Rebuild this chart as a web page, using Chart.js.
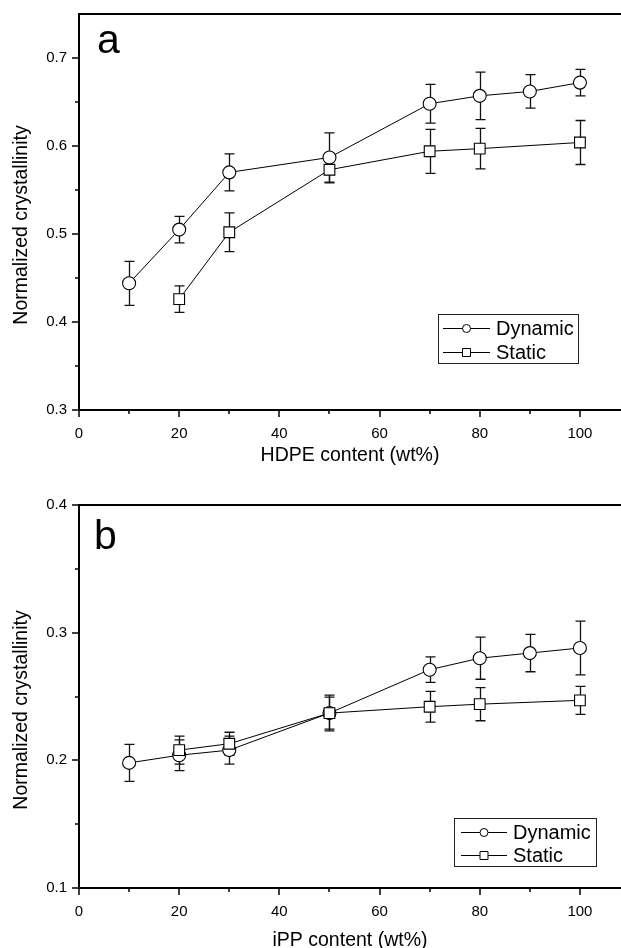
<!DOCTYPE html>
<html><head><meta charset="utf-8">
<script src="https://cdn.jsdelivr.net/npm/chart.js@4/dist/chart.umd.min.js"></script>
<style>
html,body{margin:0;padding:0;background:#fff;overflow:hidden;width:621px;height:948px;}
.panel{position:absolute;left:0;}
canvas{display:block;}
</style></head><body>
<div class="panel" style="top:0px"><canvas id="ca" width="621" height="470"></canvas></div>
<div class="panel" style="top:470px"><canvas id="cb" width="621" height="500"></canvas></div>
<script>
// ---------- data ----------
const dynamicX = [10, 20, 30, 50, 70, 80, 90, 100];
const staticX  = [20, 30, 50, 70, 80, 100];
// Panel a: HDPE content
const dynamicA    = [0.444, 0.505, 0.570, 0.587, 0.648, 0.657, 0.662, 0.672];
const dynamicAErr = [0.025, 0.015, 0.021, 0.028, 0.022, 0.027, 0.019, 0.015];
const staticA     = [0.426, 0.502, 0.573, 0.594, 0.597, 0.604];
const staticAErr  = [0.015, 0.022, 0.015, 0.025, 0.023, 0.025];
// Panel b: iPP content
const dynamicB    = [0.198, 0.204, 0.208, 0.237, 0.271, 0.280, 0.284, 0.288];
const dynamicBErr = [0.0145, 0.012, 0.011, 0.014, 0.010, 0.0165, 0.0146, 0.021];
const staticB     = [0.208, 0.213, 0.237, 0.242, 0.244, 0.247];
const staticBErr  = [0.011, 0.009, 0.0125, 0.012, 0.013, 0.011];
// ticks
const xMajor  = [0, 20, 40, 60, 80, 100];
const xMinor  = [10, 30, 50, 70, 90];
const yMajorA = [0.3, 0.4, 0.5, 0.6, 0.7];
const yMinorA = [0.35, 0.45, 0.55, 0.65];
const yMajorB = [0.1, 0.2, 0.3, 0.4];
const yMinorB = [0.15, 0.25, 0.35];
const seriesNames = ['Dynamic', 'Static'];
const panelLetters = ['a', 'b'];
const xTitles = ['HDPE content (wt%)', 'iPP content (wt%)'];
const yTitle = 'Normalized crystallinity';

// ---------- helpers ----------
const FONT = '"Liberation Sans", Arial, Helvetica, sans-serif';
Chart.defaults.font.family = FONT;
Chart.defaults.color = '#000';

function pts(xs, ys) { return xs.map((x, i) => ({x: x, y: ys[i]})); }

const errorBars = {
  id: 'errorBars',
  beforeDatasetsDraw(chart) {
    const ctx = chart.ctx, xs = chart.scales.x, ys = chart.scales.y;
    ctx.save();
    ctx.strokeStyle = '#111';
    ctx.lineWidth = 1.3;
    chart.data.datasets.forEach((ds, i) => {
      if (!ds.errors) return;
      ds.data.forEach((p, j) => {
        const e = ds.errors[j];
        const px = Math.round(xs.getPixelForValue(p.x)) + 0.5;
        const y1 = ys.getPixelForValue(p.y + e), y2 = ys.getPixelForValue(p.y - e);
        ctx.beginPath();
        ctx.moveTo(px, y1); ctx.lineTo(px, y2);
        ctx.moveTo(px - 5, y1); ctx.lineTo(px + 5, y1);
        ctx.moveTo(px - 5, y2); ctx.lineTo(px + 5, y2);
        ctx.stroke();
      });
    });
    ctx.restore();
  }
};

const decor = {
  id: 'decor',
  afterDraw(chart) {
    const o = chart.options.plugins.decor;
    const ctx = chart.ctx, xs = chart.scales.x, ys = chart.scales.y, ca = chart.chartArea;
    ctx.save();
    ctx.strokeStyle = '#000';
    // top frame line
    ctx.lineWidth = 2;
    ctx.beginPath(); ctx.moveTo(ca.left - 1, ca.top); ctx.lineTo(ca.right, ca.top); ctx.stroke();
    // tick marks
    ctx.lineWidth = 1.5;
    const tick = (arr, len, horiz) => {
      arr.forEach(v => {
        ctx.beginPath();
        if (horiz) { const px = Math.round(xs.getPixelForValue(v)); ctx.moveTo(px, ca.bottom); ctx.lineTo(px, ca.bottom + len); }
        else { const py = Math.round(ys.getPixelForValue(v)); ctx.moveTo(ca.left, py); ctx.lineTo(ca.left - len, py); }
        ctx.stroke();
      });
    };
    tick(o.xMajor, 7, true); tick(o.xMinor, 4, true);
    tick(o.yMajor, 7, false); tick(o.yMinor, 4, false);
    // y title
    ctx.fillStyle = '#000';
    ctx.font = '19.5px ' + FONT;
    ctx.textAlign = 'center'; ctx.textBaseline = 'middle';
    ctx.save(); ctx.translate(o.yTitleX, o.yTitleY); ctx.rotate(-Math.PI / 2);
    ctx.fillText(yTitle, 0, 0); ctx.restore();
    // panel letter
    ctx.font = '41px ' + FONT;
    ctx.textAlign = 'left'; ctx.textBaseline = 'alphabetic';
    ctx.fillText(o.letter, o.letterX, o.letterY);
    // legend
    const L = o.legend;
    ctx.lineWidth = 1;
    ctx.strokeStyle = '#222';
    ctx.strokeRect(L.x + 0.5, L.y + 0.5, L.w, L.h);
    ctx.strokeStyle = '#000';
    ctx.font = '20px ' + FONT;
    ctx.textBaseline = 'middle';
    chart.data.datasets.forEach((ds, i) => {
      const ry = L.rows[i];
      ctx.beginPath(); ctx.moveTo(L.lineX0, ry + 0.5); ctx.lineTo(L.lineX1, ry + 0.5); ctx.stroke();
      const cx = (L.lineX0 + L.lineX1) / 2;
      ctx.fillStyle = '#fff';
      ctx.beginPath();
      if (ds.pointStyle === 'circle') ctx.arc(cx, ry + 0.5, 4, 0, Math.PI * 2);
      else ctx.rect(cx - 4, ry - 3.5, 8, 8);
      ctx.fill(); ctx.stroke();
      ctx.fillStyle = '#000';
      ctx.fillText(ds.label, L.textX, ry + 1);
    });
    ctx.restore();
  }
};

function makeChart(id, p) {
  return new Chart(document.getElementById(id), {
    type: 'line',
    data: {
      datasets: [
        { label: seriesNames[0], data: pts(dynamicX, p.dyn), errors: p.dynErr, order: 1,
          pointStyle: 'circle', pointRadius: 6.5, pointHoverRadius: 6.5,
          borderColor: '#000', backgroundColor: '#fff', pointBackgroundColor: '#fff', pointBorderColor: '#000',
          borderWidth: 1, pointBorderWidth: 1.1, tension: 0, fill: false },
        { label: seriesNames[1], data: pts(staticX, p.sta), errors: p.staErr, order: 0,
          pointStyle: 'rect', pointRadius: 7.6, pointHoverRadius: 7.6,
          borderColor: '#000', backgroundColor: '#fff', pointBackgroundColor: '#fff', pointBorderColor: '#000',
          borderWidth: 1, pointBorderWidth: 1.1, tension: 0, fill: false }
      ]
    },
    options: {
      responsive: false, animation: false, devicePixelRatio: 1,
      layout: { autoPadding: false, padding: { left: 0, right: 0, top: p.padTop, bottom: 0 } },
      plugins: {
        legend: { display: false }, tooltip: { enabled: false },
        decor: p.decor
      },
      scales: {
        x: {
          type: 'linear', position: 'bottom', min: 0, max: 108.2,
          afterBuildTicks: s => { s.ticks = xMajor.map(v => ({value: v})); },
          afterFit: s => { s.height = p.xAxisH; s.paddingLeft = 0; s.paddingRight = 0; },
          ticks: { padding: 15, font: { size: 15 }, color: '#000', callback: v => String(v), maxRotation: 0, autoSkip: false },
          grid: { display: true, drawOnChartArea: false, drawTicks: false },
          border: { display: true, color: '#000', width: 2 },
          title: { display: true, text: p.xTitle, font: { size: 19.5 }, color: '#000', padding: { top: 0, bottom: p.xTitlePad } }
        },
        y: {
          type: 'linear', position: 'left', min: p.yMin, max: p.yMax,
          afterBuildTicks: s => { s.ticks = p.yMajor.map(v => ({value: v})); },
          afterFit: s => { s.width = 79; s.paddingTop = 0; s.paddingBottom = 0; },
          ticks: { padding: 12, font: { size: 15 }, color: '#000', callback: v => v.toFixed(1), autoSkip: false },
          grid: { display: true, drawOnChartArea: false, drawTicks: false },
          border: { display: true, color: '#000', width: 2 }
        }
      }
    },
    plugins: [errorBars, decor]
  });
}

makeChart('ca', {
  dyn: dynamicA, dynErr: dynamicAErr, sta: staticA, staErr: staticAErr,
  yMin: 0.3, yMax: 0.75, yMajor: yMajorA, padTop: 14, xAxisH: 60, xTitle: xTitles[0], xTitlePad: 2.8,
  decor: { xMajor: xMajor, xMinor: xMinor, yMajor: yMajorA, yMinor: yMinorA,
    yTitleX: 22, yTitleY: 225, letter: panelLetters[0], letterX: 97, letterY: 53,
    legend: { x: 438, y: 314, w: 140, h: 49, rows: [328, 352], lineX0: 443, lineX1: 490, textX: 496 } }
});
makeChart('cb', {
  dyn: dynamicB, dynErr: dynamicBErr, sta: staticB, staErr: staticBErr,
  yMin: 0.1, yMax: 0.4, yMajor: yMajorB, padTop: 35, xAxisH: 82, xTitle: xTitles[1], xTitlePad: 17.5,
  decor: { xMajor: xMajor, xMinor: xMinor, yMajor: yMajorB, yMinor: yMinorB,
    yTitleX: 22, yTitleY: 240, letter: panelLetters[1], letterX: 94, letterY: 79,
    legend: { x: 454, y: 348, w: 142, h: 48, rows: [362, 385], lineX0: 461, lineX1: 507, textX: 513 } }
});
</script>
</body></html>
